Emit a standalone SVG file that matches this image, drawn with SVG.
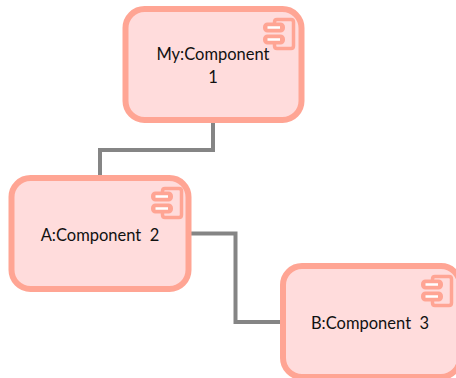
<svg xmlns="http://www.w3.org/2000/svg" width="456" height="378" viewBox="0 0 456 378">
<style>
.box{fill:#ffdcdc;stroke:#ffa594;stroke-width:6}
.ic{fill:none;stroke:#ffa594;stroke-width:3.500}
.tab{fill:#ffa594;stroke:#ffa594;stroke-width:3}
.bar{fill:none;stroke:#fff;stroke-width:2.500}
.lnk{fill:none;stroke:#858585;stroke-width:4}
text{font-family:Lato,"Open Sans",sans-serif;font-size:16.500px;fill:#111;text-anchor:middle;white-space:pre}
</style>
<defs>
<g id="icon">
<path class="ic" d="M10.500 5V4Q10.500 1.500 13 1.500H27Q29.500 1.500 29.500 4V28Q29.500 30.500 27 30.500H13Q10.500 30.500 10.500 28V26"/>
<rect class="tab" x="0.500" y="6" width="19" height="7" rx="3"/>
<rect class="tab" x="0.500" y="18" width="19" height="7" rx="3"/>
<path class="bar" d="M3.500 9.500H16M3.500 21.500H16"/>
</g>
</defs>
<g id="connectors">
<path class="lnk" d="M213 121V150H100V178"/>
<path class="lnk" d="M188 233.500H235.500V322H283"/>
</g>
<g id="node1">
<rect class="box" x="125.500" y="9" width="176" height="111" rx="19"/>
<use href="#icon" x="264" y="18"/>
<text x="213" y="60">My:Component</text>
<text x="213" y="83">1</text>
</g>
<g id="node2">
<rect class="box" x="11.500" y="178" width="177" height="111" rx="19"/>
<use href="#icon" x="152" y="187"/>
<text x="100" y="241">A:Component  2</text>
</g>
<g id="node3">
<rect class="box" x="283" y="266" width="177" height="111" rx="19"/>
<use href="#icon" x="422" y="275"/>
<text x="370" y="329">B:Component  3</text>
</g>
</svg>
